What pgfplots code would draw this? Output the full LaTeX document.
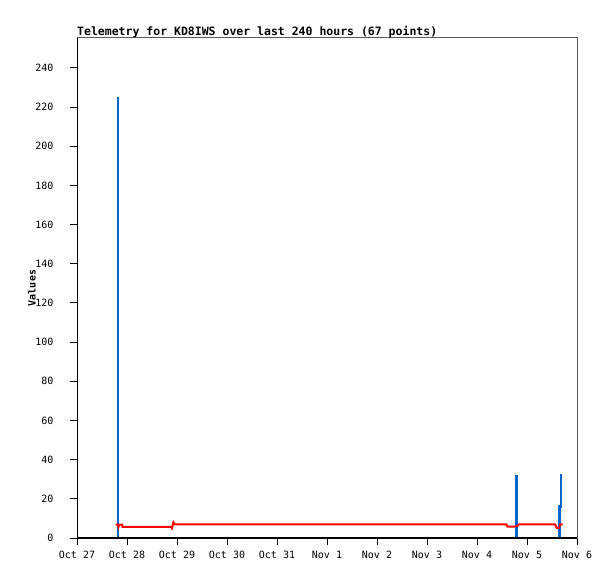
\documentclass[border=0pt]{standalone}
\usepackage{pgfplots}
\pgfplotsset{compat=1.18}
\usepackage{fontspec}
\setmainfont{DejaVu Sans Mono}
\setmonofont{DejaVu Sans Mono}
\definecolor{tblue}{RGB}{0,102,204}
\definecolor{tred}{RGB}{255,0,0}
\begin{document}
\begin{tikzpicture}[x=1pt,y=1pt]
\path[use as bounding box] (0,0) rectangle (615,579);
\begin{axis}[
  at={(77pt,41pt)}, anchor=south west,
  scale only axis, width=500pt, height=500pt,
  xmin=0, xmax=10, ymin=0, ymax=255.3,
  xtick={0,1,2,3,4,5,6,7,8,9,10},
  xticklabels={Oct 27,Oct 28,Oct 29,Oct 30,Oct 31,Nov 1,Nov 2,Nov 3,Nov 4,Nov 5,Nov 6},
  ytick={0,20,...,240},
  tick align=outside, tick pos=left, major tick length=7pt,
  tick style={black, line width=1pt},
  axis line style={gray!70!black, line width=1pt},
  ticklabel style={font=\fontsize{10}{12}\selectfont},
  yticklabel style={xshift=-13pt},
  xticklabel style={yshift=-3pt},
  /pgf/number format/assume math mode=true,
  unbounded coords=jump,
  title={Telemetry for KD8IWS over last 240 hours (67 points)},
  title style={at={(0,1)}, anchor=south west, inner sep=0pt, yshift=-6pt, font=\bfseries\fontsize{11.5}{12}\selectfont},
  ylabel={Values},
  every axis y label/.style={at={(axis description cs:-0.09,0.5)}, anchor=center, rotate=90, font=\bfseries\fontsize{10}{12}\selectfont},
]
\addplot[tblue, line width=2.5pt, line cap=butt, line join=miter] coordinates {
(0.82,0) (0.82,225) (nan,nan)
(8.79,0) (8.79,32.2) (nan,nan)
(9.647,0) (9.647,16) (9.675,16) (9.675,32) (9.70,32)
};
\addplot[tred, line width=2pt] coordinates {
(0.773,6.8) (0.82,6.8) (0.83,5.7) (0.845,6.8) (0.90,6.8) (0.91,5.7)
(1.88,5.7) (1.90,5.0) (1.93,8.0) (1.96,6.9)
(8.59,6.9) (8.61,5.8) (8.76,5.8) (8.80,6.2) (8.84,6.9)
(9.56,6.9) (9.60,5.0) (9.64,5.0) (9.66,6.9) (9.71,6.9)
};
\draw[black, line width=2pt] (rel axis cs:0,0) -- (rel axis cs:1,0);
\draw[black, line width=1pt] (rel axis cs:0,0) -- (rel axis cs:0,1);
\end{axis}
\end{tikzpicture}
\end{document}
